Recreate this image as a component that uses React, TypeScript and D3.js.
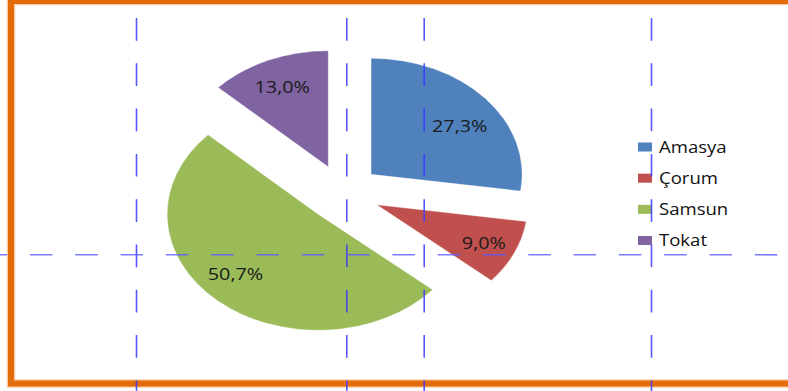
import React from "react";
import * as d3 from "d3";

const categories: string[] = ["Amasya", "Çorum", "Samsun", "Tokat"];
const values: number[] = [27.3, 9.0, 50.7, 13.0];
const labels: string[] = ["27,3%", "9,0%", "50,7%", "13,0%"];
const colors: string[] = ["#4F81BD", "#C0504D", "#9BBB59", "#8064A2"];

const gridX: number[] = [136.5, 346.8, 424.2, 651.5];
const gridY: number[] = [254.8];

const W = 788;
const H = 391;

// small label placement nudges (px), per slice
const labelNudge: [number, number][] = [
  [3, 8],
  [4, 2],
  [-7, -5],
  [-1, 0],
];

export default function App() {
  const cx = 343;
  const cy = 193;
  const rx = 151;
  const ry = 116;
  const R = 100;
  const explode = 0.246;
  const labelFrac = 0.75;

  const pie = d3
    .pie<number>()
    .sort(null)
    .value((d) => d)
    .startAngle(0)
    .endAngle(2 * Math.PI);
  const arcs = pie(values);
  const arcGen = d3.arc<d3.PieArcDatum<number>>().innerRadius(0).outerRadius(R);

  const legendY = d3
    .scalePoint<string>()
    .domain(categories)
    .range([147, 240.5]);

  return (
    <div style={{ position: "absolute", left: 0, top: 0 }}>
      <svg width={W} height={H} style={{ display: "block", background: "#fff" }}>
        <rect x={0} y={0} width={W} height={H} fill="#ffffff" />
        {/* orange frame */}
        <rect x={11} y={1} width={900} height={382.5} fill="none" stroke="#F9CBA2" strokeWidth={8.5} />
        <rect x={11} y={1} width={900} height={382.5} fill="none" stroke="#E36C0A" strokeWidth={6} />

        {/* pie */}
        {arcs.map((a, i) => {
          const mid = (a.startAngle + a.endAngle) / 2;
          const ox = cx + explode * rx * Math.sin(mid);
          const oy = cy - explode * ry * Math.cos(mid);
          return (
            <g key={categories[i]} transform={`translate(${ox},${oy})`}>
              <path
                d={arcGen(a) || ""}
                transform={`scale(${rx / R},${ry / R})`}
                fill={colors[i]}
                stroke="#ffffff"
                strokeOpacity={0.5}
                strokeWidth={0.6}
                vectorEffect="non-scaling-stroke"
              />
            </g>
          );
        })}
        {arcs.map((a, i) => {
          const mid = (a.startAngle + a.endAngle) / 2;
          const ox = cx + explode * rx * Math.sin(mid);
          const oy = cy - explode * ry * Math.cos(mid);
          const lx = ox + labelFrac * rx * Math.sin(mid) + labelNudge[i][0];
          const ly = oy - labelFrac * ry * Math.cos(mid) + labelNudge[i][1];
          return (
            <text
              key={"l" + i}
              transform={`translate(${lx},${ly}) scale(1.2,1)`}
              textAnchor="middle"
              dominantBaseline="central"
              fontFamily="'Open Sans', sans-serif"
              fontSize={16.5}
              fill="#1a1a1a"
            >
              {labels[i]}
            </text>
          );
        })}

        {/* legend */}
        {categories.map((c, i) => {
          const y = legendY(c) as number;
          return (
            <g key={"lg" + c}>
              <rect x={638} y={y - 4.5} width={14} height={9} fill={colors[i]} />
              <text
                transform={`translate(659,${y + 5.5}) scale(1.16,1)`}
                fontFamily="'Open Sans', sans-serif"
                fontSize={16}
                fill="#111"
              >
                {c}
              </text>
            </g>
          );
        })}

        {/* dashed guide lines */}
        {gridX.map((x) => (
          <line
            key={"gx" + x}
            x1={x}
            x2={x}
            y1={18}
            y2={H}
            stroke="#3a3aff"
            strokeOpacity={0.85}
            strokeWidth={1.6}
            strokeDasharray="22.7 22.6"
          />
        ))}
        {gridY.map((y) => (
          <line
            key={"gy" + y}
            x1={-15.3}
            x2={W}
            y1={y}
            y2={y}
            stroke="#5a5aff"
            strokeOpacity={0.8}
            strokeWidth={1.6}
            strokeDasharray="22.5 22.8"
          />
        ))}
      </svg>
    </div>
  );
}
